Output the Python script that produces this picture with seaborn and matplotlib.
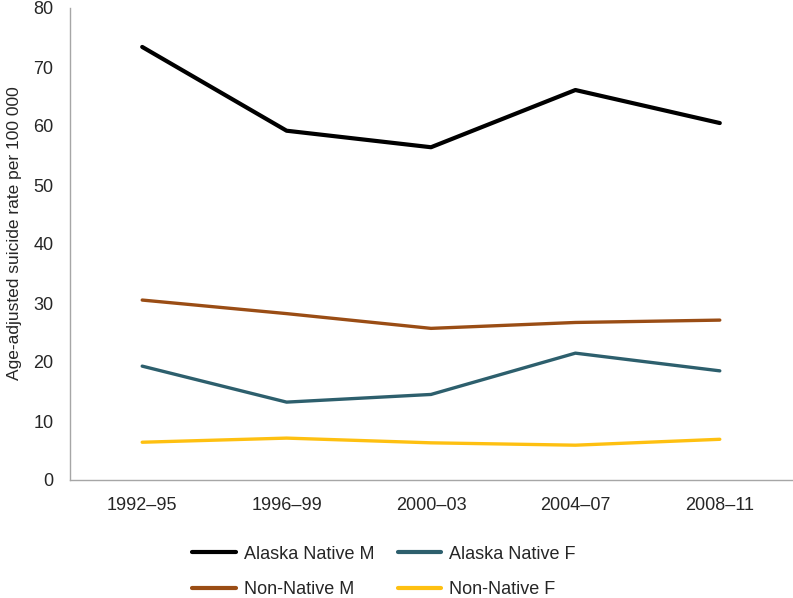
import numpy as np
import pandas as pd
import seaborn as sns
import matplotlib.pyplot as plt
from matplotlib.lines import Line2D

periods = ["1992\u201395", "1996\u201399", "2000\u201303", "2004\u201307", "2008\u201311"]
alaska_native_m = [73.4, 59.2, 56.4, 66.1, 60.5]
alaska_native_f = [19.3, 13.2, 14.5, 21.5, 18.5]
non_native_m = [30.5, 28.2, 25.7, 26.7, 27.1]
non_native_f = [6.4, 7.1, 6.3, 5.9, 6.9]

groups = ["Alaska Native M", "Alaska Native F", "Non-Native M", "Non-Native F"]
colors = {"Alaska Native M": "#000000", "Alaska Native F": "#2d5f6d",
          "Non-Native M": "#9a4d15", "Non-Native F": "#fec011"}
widths = {"Alaska Native M": 3.0, "Alaska Native F": 2.4,
          "Non-Native M": 2.4, "Non-Native F": 2.4}

series = [alaska_native_m, alaska_native_f, non_native_m, non_native_f]
df = pd.concat([pd.DataFrame({"x": np.arange(len(periods)), "rate": vals, "group": g})
                for g, vals in zip(groups, series)], ignore_index=True)

sns.set_style("white")
plt.rcParams["font.family"] = ["Liberation Sans", "DejaVu Sans"]

fig = plt.figure(figsize=(7.93, 5.98), dpi=100)
ax = fig.add_axes([70 / 793, 1 - 480 / 598, 722 / 793, 472 / 598])

for g in groups:
    sns.lineplot(data=df[df["group"] == g], x="x", y="rate", color=colors[g],
                 linewidth=widths[g], ax=ax, legend=False, solid_capstyle="round")

grey = "#a6a6a6"
ax.set_xlim(-0.5, len(periods) - 0.5)
ax.set_ylim(0, 80)
ax.set_yticks(np.arange(0, 81, 10))
ax.set_xticks(np.arange(-0.5, len(periods), 1.0))
ax.set_xticklabels([])
ax.set_xticks(np.arange(len(periods)), minor=True)
ax.set_xticklabels(periods, minor=True)
ax.tick_params(axis="x", which="major", length=6, color=grey, direction="out")
ax.tick_params(axis="x", which="minor", length=0, pad=12, labelsize=13)
ax.tick_params(axis="y", length=4, color=grey, direction="out", pad=8, labelsize=13)
ax.set_xlabel("")
ax.set_ylabel("Age-adjusted suicide rate per 100 000", fontsize=12.5)
ax.yaxis.set_label_coords(-48 / 722, 0.522)
for side in ["top", "right"]:
    ax.spines[side].set_visible(False)
for side in ["left", "bottom"]:
    ax.spines[side].set_color(grey)
    ax.spines[side].set_linewidth(1.0)

order = ["Alaska Native M", "Non-Native M", "Alaska Native F", "Non-Native F"]
handles = [Line2D([0], [0], color=colors[g], linewidth=3.0) for g in order]
fig.legend(handles, order, ncol=2, loc="center left", bbox_to_anchor=(185 / 793, 1 - 572 / 598),
           frameon=False, fontsize=13, handlelength=2.4, handletextpad=0.45,
           columnspacing=1.3, labelspacing=1.05, borderaxespad=0)

fig.savefig("out.png", dpi=100)
